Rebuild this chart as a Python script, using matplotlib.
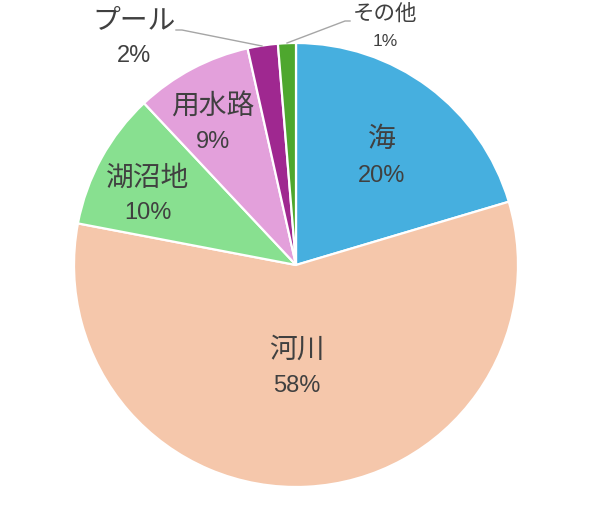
import matplotlib
matplotlib.use("Agg")
import matplotlib.pyplot as plt

# Data (wedge sizes as drawn) and label texts
categories = ["海", "河川", "湖沼地", "用水路", "プール", "その他"]
sizes = [20.4, 57.6, 10.0, 8.5, 2.2, 1.3]
pct_labels = ["20%", "58%", "10%", "9%", "2%", "1%"]
colors = ["#46AFDF", "#F5C7AB", "#88E090", "#E3A0DB", "#9F2890", "#4EA72E"]

W, H = 600, 505
fig = plt.figure(figsize=(W / 100, H / 100), dpi=100)
ax = fig.add_axes([0, 0, 1, 1])

def Y(y):
    return H - y

cx, cy, R = 296, 265, 222
ax.pie(sizes, colors=colors, startangle=90, counterclock=False,
       center=(cx, Y(cy)), radius=R, frame=True,
       wedgeprops=dict(edgecolor="white", linewidth=1.6))
ax.set_xlim(0, W)
ax.set_ylim(0, H)
ax.set_aspect("equal")
ax.axis("off")

# label positions (pixel coords: name center, percent center)
pos = [
    ((382, 139), (382, 176)),
    ((297, 350), (297, 386)),
    ((148, 178), (148, 213)),
    ((213, 107), (213, 142)),
    ((134, 20), (134, 56)),
    ((385, 14), (385, 42)),
]
tc = "#404040"
fam = ["Noto Sans CJK JP", "DejaVu Sans"]
pfam = ["Liberation Sans", "DejaVu Sans"]
for i, (name, pct) in enumerate(zip(categories, pct_labels)):
    (nx, ny), (px, py) = pos[i]
    small = i == 5
    ax.text(nx, Y(ny), name, ha="center", va="center", color=tc,
            fontsize=15.5 if small else 20, family=fam)
    ax.text(px, Y(py), pct, ha="center", va="center", color=tc,
            fontsize=12.5 if small else 17, family=pfam)

# leader lines
ax.plot([176, 182, 262], [Y(30), Y(30), Y(46)], color="#A6A6A6", lw=1)
ax.plot([287, 345, 350], [Y(43), Y(21), Y(21)], color="#A6A6A6", lw=1)

fig.savefig("out.png", dpi=100)
